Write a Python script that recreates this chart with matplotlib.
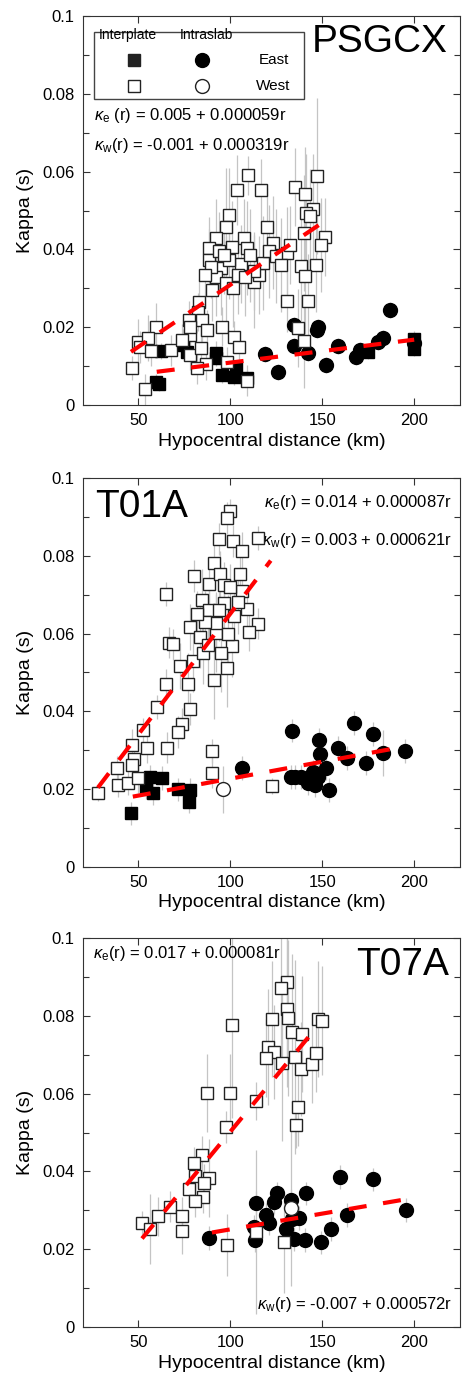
import matplotlib.pyplot as plt
import numpy as np
from matplotlib.patches import Rectangle

# columns: hypocentral distance (km), kappa (s), error (s)
PSGCX_WEST_INTER = np.array([
    [103.8, 0.0553, 0.009], [109.7, 0.0591, 0.005], [116.7, 0.0553, 0.008], [135.3, 0.0561, 0.010],
    [140.8, 0.0542, 0.012], [147.3, 0.0589, 0.020], [99.5, 0.0488, 0.012], [97.8, 0.0458, 0.015],
    [119.9, 0.0458, 0.010], [92.5, 0.0429, 0.010], [88.7, 0.0404, 0.008], [107.5, 0.0429, 0.010],
    [109.0, 0.0404, 0.012], [123.0, 0.0417, 0.012], [88.7, 0.0373, 0.008], [95.2, 0.0352, 0.012],
    [105.9, 0.0362, 0.010], [99.5, 0.0373, 0.010], [92.5, 0.0329, 0.010], [97.8, 0.0314, 0.012],
    [112.9, 0.0317, 0.012], [90.3, 0.0296, 0.008], [115.6, 0.0334, 0.010], [82.8, 0.0265, 0.006],
    [82.3, 0.0239, 0.005], [77.4, 0.0218, 0.005], [84.4, 0.0218, 0.006], [59.7, 0.0201, 0.006],
    [87.1, 0.0193, 0.005], [78.0, 0.0180, 0.006], [95.7, 0.0201, 0.005], [102.2, 0.0175, 0.004],
    [104.8, 0.0149, 0.004], [50.0, 0.0162, 0.006], [55.4, 0.0172, 0.006], [51.0, 0.0149, 0.004],
    [57.0, 0.0139, 0.004], [67.7, 0.0141, 0.004], [73.6, 0.0167, 0.004], [78.0, 0.0129, 0.004],
    [83.9, 0.0147, 0.006], [46.8, 0.0095, 0.003], [86.6, 0.0105, 0.004], [81.7, 0.0095, 0.004],
    [109.0, 0.0062, 0.004], [53.8, 0.0041, 0.004], [78.0, 0.0201, 0.004], [98.4, 0.0110, 0.004],
    [94.0, 0.0395, 0.010], [101.0, 0.0405, 0.012], [104.0, 0.0335, 0.010], [110.5, 0.0385, 0.012],
    [118.0, 0.0365, 0.012], [121.0, 0.0395, 0.012], [89.5, 0.0355, 0.008], [96.5, 0.0385, 0.010],
    [113.0, 0.0345, 0.010], [86.5, 0.0335, 0.008], [101.5, 0.0300, 0.010], [108.0, 0.0330, 0.010],
    [145.2, 0.0504, 0.014], [141.4, 0.0494, 0.015], [143.5, 0.0486, 0.012], [140.3, 0.0442, 0.015],
    [151.6, 0.0432, 0.010], [149.5, 0.0411, 0.012], [130.6, 0.0390, 0.012], [132.3, 0.0411, 0.010],
    [124.7, 0.0383, 0.012], [127.4, 0.0360, 0.012], [138.7, 0.0357, 0.014], [146.8, 0.0360, 0.012],
    [140.9, 0.0332, 0.015], [130.6, 0.0267, 0.008], [142.5, 0.0267, 0.012], [136.6, 0.0198, 0.010],
    [140.3, 0.0165, 0.012],
])
PSGCX_EAST_INTER = np.array([
    [62.4, 0.0139, 0.002], [59.7, 0.0059, 0.002], [61.5, 0.0055, 0.002], [76.3, 0.0136, 0.002],
    [74.2, 0.0154, 0.002], [92.5, 0.0134, 0.003], [92.0, 0.0120, 0.002], [95.7, 0.0077, 0.002],
    [103.2, 0.0095, 0.002], [102.0, 0.0072, 0.002], [109.1, 0.0069, 0.002], [174.7, 0.0137, 0.002],
    [200.0, 0.0170, 0.002], [200.0, 0.0145, 0.002],
])
PSGCX_EAST_SLAB = np.array([
    [118.8, 0.0131, 0.002], [125.8, 0.0085, 0.002], [134.9, 0.0206, 0.002], [134.9, 0.0152, 0.002],
    [147.8, 0.0201, 0.002], [147.0, 0.0193, 0.002], [142.5, 0.0134, 0.002], [152.2, 0.0103, 0.002],
    [158.6, 0.0152, 0.002], [168.3, 0.0123, 0.002], [170.4, 0.0141, 0.002], [180.1, 0.0162, 0.002],
    [182.8, 0.0172, 0.002], [186.6, 0.0244, 0.002], [200.0, 0.0160, 0.002],
])
PSGCX_WEST_SLAB = np.empty((0, 3))

T01A_WEST_INTER = np.array([
    [100.0, 0.0915, 0.003], [98.4, 0.0897, 0.004], [94.1, 0.0843, 0.004], [101.6, 0.0838, 0.004],
    [106.5, 0.0812, 0.005], [115.0, 0.0846, 0.003], [90.9, 0.0781, 0.005], [80.1, 0.0748, 0.004],
    [88.7, 0.0727, 0.006], [94.6, 0.0753, 0.006], [96.8, 0.0725, 0.006], [105.4, 0.0753, 0.005],
    [106.5, 0.0710, 0.006], [65.0, 0.0702, 0.003], [84.4, 0.0686, 0.008], [96.8, 0.0679, 0.008],
    [109.1, 0.0663, 0.006], [115.0, 0.0625, 0.004], [110.2, 0.0604, 0.005], [78.0, 0.0617, 0.006],
    [83.3, 0.0591, 0.008], [92.5, 0.0602, 0.010], [66.7, 0.0576, 0.004], [68.8, 0.0573, 0.004],
    [101.1, 0.0568, 0.008], [72.6, 0.0517, 0.006], [79.6, 0.0530, 0.008], [84.9, 0.0550, 0.008],
    [98.4, 0.0512, 0.010], [76.9, 0.0470, 0.008], [90.9, 0.0481, 0.010], [65.0, 0.0470, 0.004],
    [92.5, 0.0627, 0.008], [88.7, 0.0660, 0.008], [102.0, 0.0645, 0.008],
    [86.0, 0.0630, 0.008], [94.0, 0.0660, 0.008], [99.0, 0.0600, 0.010], [104.0, 0.0680, 0.008],
    [88.0, 0.0570, 0.008], [95.0, 0.0550, 0.010], [82.0, 0.0650, 0.006], [100.0, 0.0720, 0.006],
    [60.2, 0.0411, 0.003], [78.0, 0.0406, 0.004], [73.7, 0.0368, 0.004], [71.5, 0.0347, 0.004],
    [52.7, 0.0352, 0.003], [46.8, 0.0314, 0.004], [54.8, 0.0306, 0.004], [65.6, 0.0306, 0.004],
    [47.8, 0.0278, 0.003], [38.2, 0.0254, 0.003], [46.8, 0.0262, 0.003], [38.7, 0.0211, 0.003],
    [44.6, 0.0216, 0.003], [50.0, 0.0229, 0.004], [28.0, 0.0190, 0.002], [90.3, 0.0298, 0.003],
    [90.3, 0.0242, 0.004], [122.6, 0.0208, 0.002],
])
T01A_EAST_INTER = np.array([
    [56.5, 0.0231, 0.003], [62.9, 0.0229, 0.003], [58.1, 0.0190, 0.003], [54.3, 0.0206, 0.003],
    [71.5, 0.0200, 0.003], [78.0, 0.0198, 0.003], [77.4, 0.0168, 0.003], [46.0, 0.0138, 0.003],
])
T01A_EAST_SLAB = np.array([
    [106.5, 0.0254, 0.003], [133.3, 0.0350, 0.003], [132.8, 0.0231, 0.003], [135.0, 0.0231, 0.003],
    [138.7, 0.0231, 0.003], [142.5, 0.0216, 0.003], [146.2, 0.0211, 0.003], [145.2, 0.0244, 0.003],
    [147.8, 0.0231, 0.003], [148.4, 0.0326, 0.003], [148.9, 0.0290, 0.003], [152.2, 0.0254, 0.003],
    [153.8, 0.0198, 0.003], [158.6, 0.0306, 0.003], [163.4, 0.0280, 0.003], [167.2, 0.0370, 0.003],
    [173.7, 0.0267, 0.003], [177.4, 0.0342, 0.003], [182.8, 0.0293, 0.006], [195.2, 0.0298, 0.003],
])
T01A_WEST_SLAB = np.array([[96.2, 0.0200, 0.006]])

T07A_WEST_INTER = np.array([
    [130.6, 0.0887, 0.020], [127.4, 0.0871, 0.020], [101.1, 0.0776, 0.024], [122.6, 0.0792, 0.015],
    [130.6, 0.0817, 0.020], [131.2, 0.0794, 0.020], [147.8, 0.0792, 0.015], [150.0, 0.0787, 0.014],
    [133.3, 0.0758, 0.020], [139.2, 0.0753, 0.015], [120.4, 0.0720, 0.015], [123.7, 0.0707, 0.012],
    [119.4, 0.0692, 0.010], [128.0, 0.0679, 0.020], [135.0, 0.0694, 0.025], [138.2, 0.0663, 0.012],
    [144.6, 0.0676, 0.010], [146.8, 0.0704, 0.010], [87.6, 0.0602, 0.010], [100.0, 0.0602, 0.010],
    [114.0, 0.0581, 0.005], [136.6, 0.0566, 0.010], [135.5, 0.0519, 0.006], [97.8, 0.0514, 0.004],
    [84.4, 0.0442, 0.005], [80.1, 0.0422, 0.004], [80.6, 0.0388, 0.004], [88.2, 0.0383, 0.010],
    [85.5, 0.0370, 0.005], [77.4, 0.0355, 0.004], [84.9, 0.0334, 0.004], [80.6, 0.0324, 0.004],
    [67.2, 0.0309, 0.004], [60.8, 0.0285, 0.005], [73.7, 0.0285, 0.005], [52.2, 0.0267, 0.003],
    [56.5, 0.0252, 0.009], [73.7, 0.0247, 0.006], [98.4, 0.0211, 0.008], [114.0, 0.0244, 0.021],
    [129.0, 0.0218, 0.013],
])
T07A_EAST_INTER = np.empty((0, 3))
T07A_EAST_SLAB = np.array([
    [88.7, 0.0229, 0.003], [114.0, 0.0319, 0.003], [112.9, 0.0257, 0.003], [113.4, 0.0224, 0.003],
    [119.4, 0.0288, 0.003], [121.0, 0.0267, 0.003], [123.7, 0.0321, 0.003], [125.3, 0.0344, 0.003],
    [132.8, 0.0326, 0.003], [133.3, 0.0278, 0.003], [130.1, 0.0252, 0.003], [137.1, 0.0280, 0.003],
    [134.4, 0.0226, 0.003], [140.9, 0.0224, 0.003], [141.4, 0.0344, 0.003], [149.5, 0.0218, 0.003],
    [154.8, 0.0252, 0.003], [159.7, 0.0386, 0.003], [163.4, 0.0288, 0.003], [177.4, 0.0380, 0.003],
    [195.7, 0.0301, 0.003],
])
T07A_WEST_SLAB = np.array([[132.8, 0.0306, 0.020]])

STATIONS = ["PSGCX", "T01A", "T07A"]
FIT_EAST = [(0.005, 0.000059), (0.014, 0.000087), (0.017, 0.000081)]
FIT_WEST = [(-0.001, 0.000319), (0.003, 0.000621), (-0.007, 0.000572)]
RANGE_EAST = [(60, 200), (47, 187), (90, 194)]
RANGE_WEST = [(46, 150), (28, 122), (52, 145)]
EQ_EAST = [r"$\kappa_{\rm e}$ (r) = 0.005 + 0.000059r",
           r"$\kappa_{\rm e}$(r) = 0.014 + 0.000087r",
           r"$\kappa_{\rm e}$(r) = 0.017 + 0.000081r"]
EQ_WEST = [r"$\kappa_{\rm w}$(r) = -0.001 + 0.000319r",
           r"$\kappa_{\rm w}$(r) = 0.003 + 0.000621r",
           r"$\kappa_{\rm w}$(r) = -0.007 + 0.000572r"]
DATA = [
    (PSGCX_WEST_INTER, PSGCX_EAST_INTER, PSGCX_EAST_SLAB, PSGCX_WEST_SLAB),
    (T01A_WEST_INTER, T01A_EAST_INTER, T01A_EAST_SLAB, T01A_WEST_SLAB),
    (T07A_WEST_INTER, T07A_EAST_INTER, T07A_EAST_SLAB, T07A_WEST_SLAB),
]

plt.rcParams.update({
    "font.family": ["Liberation Sans", "DejaVu Sans"],
    "mathtext.fontset": "custom",
    "mathtext.rm": "Liberation Sans",
    "mathtext.it": "Liberation Sans:italic",
    "font.size": 12,
    "lines.scale_dashes": False,
})

fig = plt.figure(figsize=(4.62, 13.79), dpi=100)
bottoms = [0.7063, 0.3713, 0.0377]
red = "#ff0000"
edge = "#222222"

for i, station in enumerate(STATIONS):
    ax = fig.add_axes([0.18, bottoms[i], 0.816, 0.2821])
    w_int, e_int, e_slab, w_slab = DATA[i]
    for arr in (e_slab, e_int, w_int, w_slab):
        if len(arr):
            ax.vlines(arr[:, 0], arr[:, 1] - arr[:, 2], arr[:, 1] + arr[:, 2],
                      color="#c4c4c4", lw=0.9, zorder=1)
    if len(e_slab):
        ax.plot(e_slab[:, 0], e_slab[:, 1], "o", ms=10, mfc="black", mec="black", zorder=2)
    if len(e_int):
        ax.plot(e_int[:, 0], e_int[:, 1], "s", ms=9.3, mfc="black", mec="black", zorder=3)
    for x, y in w_int[:, :2]:
        ax.plot(x, y, "s", ms=9.3, mfc="white", mec=edge, mew=1.0, zorder=4)
    if len(w_slab):
        ax.plot(w_slab[:, 0], w_slab[:, 1], "o", ms=10, mfc="white", mec=edge, mew=1.0, zorder=5)

    for (a, b), (r0, r1) in ((FIT_EAST[i], RANGE_EAST[i]), (FIT_WEST[i], RANGE_WEST[i])):
        r = np.array([r0, r1])
        ax.plot(r, a + b * r, color=red, lw=3.0, dashes=(13, 12), solid_capstyle="butt",
                dash_capstyle="butt", zorder=6)

    ax.set_xlim(20, 225)
    ax.set_ylim(0, 0.1)
    ax.set_xticks([50, 100, 150, 200])
    ax.set_yticks([0, 0.02, 0.04, 0.06, 0.08, 0.1])
    ax.set_yticklabels(["0", "0.02", "0.04", "0.06", "0.08", "0.1"])
    ax.set_yticks(np.arange(0, 0.1, 0.01), minor=True)
    ax.tick_params(which="both", direction="in", top=True, right=True, labelsize=12,
                   pad=6, width=0.8, color="#333333")
    ax.tick_params(which="major", length=5)
    ax.tick_params(which="minor", length=4)
    for s in ax.spines.values():
        s.set_linewidth(0.8)
        s.set_color("#333333")
    ax.set_xlabel("Hypocentral distance (km)", fontsize=14, labelpad=3)
    ax.set_ylabel("Kappa (s)", fontsize=14, labelpad=6)

    if i == 0:
        ax.text(0.966, 0.933, station, transform=ax.transAxes, fontsize=28, ha="right", va="center")
        ax.add_patch(Rectangle((0.029, 0.787), 0.556, 0.172, transform=ax.transAxes,
                               facecolor="white", edgecolor="#444444", lw=1.0, zorder=7))
        ax.text(0.119, 0.952, "Interplate", transform=ax.transAxes, fontsize=10,
                ha="center", va="center", zorder=8)
        ax.text(0.328, 0.952, "Intraslab", transform=ax.transAxes, fontsize=10,
                ha="center", va="center", zorder=8)
        ax.plot([0.135], [0.887], "s", transform=ax.transAxes, ms=9, mfc="#222222", mec="#222222", zorder=8)
        ax.plot([0.315], [0.887], "o", transform=ax.transAxes, ms=10, mfc="black", mec="black", zorder=8)
        ax.plot([0.135], [0.82], "s", transform=ax.transAxes, ms=9, mfc="white", mec=edge, zorder=8)
        ax.plot([0.315], [0.82], "o", transform=ax.transAxes, ms=10, mfc="white", mec=edge, zorder=8)
        ax.text(0.505, 0.887, "East", transform=ax.transAxes, fontsize=11, ha="center", va="center", zorder=8)
        ax.text(0.505, 0.82, "West", transform=ax.transAxes, fontsize=11, ha="center", va="center", zorder=8)
        ax.text(0.029, 0.745, EQ_EAST[i], transform=ax.transAxes, fontsize=12, ha="left", va="center")
        ax.text(0.029, 0.668, EQ_WEST[i], transform=ax.transAxes, fontsize=12, ha="left", va="center")
    elif i == 1:
        ax.text(0.032, 0.925, station, transform=ax.transAxes, fontsize=28, ha="left", va="center")
        ax.text(0.979, 0.936, EQ_EAST[i], transform=ax.transAxes, fontsize=12, ha="right", va="center")
        ax.text(0.979, 0.838, EQ_WEST[i], transform=ax.transAxes, fontsize=12, ha="right", va="center")
    else:
        ax.text(0.971, 0.93, station, transform=ax.transAxes, fontsize=28, ha="right", va="center")
        ax.text(0.026, 0.961, EQ_EAST[i], transform=ax.transAxes, fontsize=12, ha="left", va="center")
        ax.text(0.979, 0.059, EQ_WEST[i], transform=ax.transAxes, fontsize=12, ha="right", va="center")

fig.savefig("out.png", dpi=100)
